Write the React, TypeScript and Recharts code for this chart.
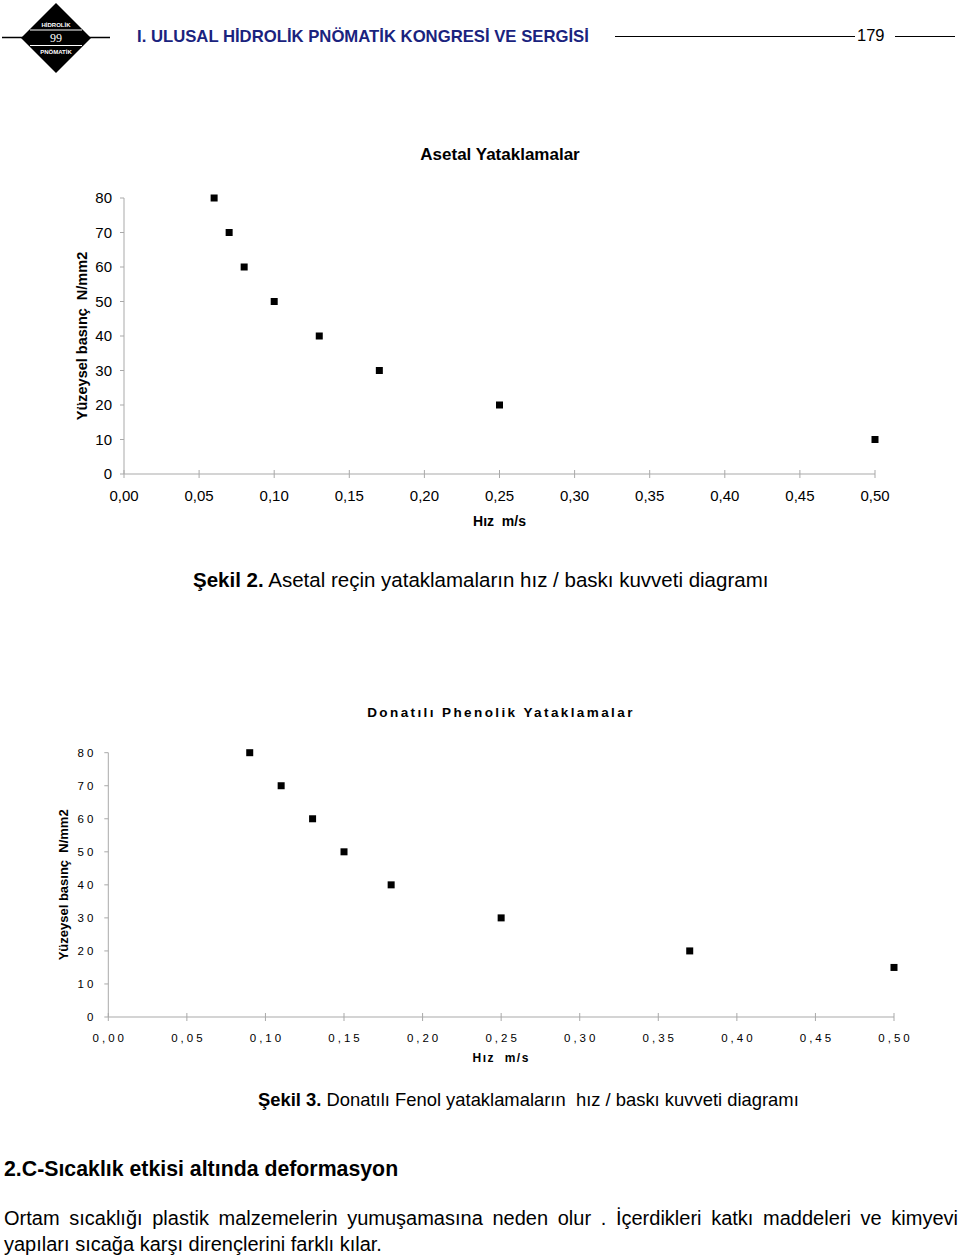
import React from 'react';
import { ScatterChart, Scatter, XAxis, YAxis, Label } from 'recharts';

// ---- data ----
const xTicks = [0, 0.05, 0.1, 0.15, 0.2, 0.25, 0.3, 0.35, 0.4, 0.45, 0.5];
const yTicks = [0, 10, 20, 30, 40, 50, 60, 70, 80];

const asetalHiz = [0.06, 0.07, 0.08, 0.1, 0.13, 0.17, 0.25, 0.5];
const asetalBasinc = [80, 70, 60, 50, 40, 30, 20, 10];

const fenolHiz = [0.09, 0.11, 0.13, 0.15, 0.18, 0.25, 0.37, 0.5];
const fenolBasinc = [80, 70, 60, 50, 40, 30, 20, 15];

const asetalData = asetalHiz.map((x, i) => ({ x, y: asetalBasinc[i] }));
const fenolData = fenolHiz.map((x, i) => ({ x, y: fenolBasinc[i] }));

// ---- styles ----
const FONT = '"Liberation Sans", Arial, Helvetica, sans-serif';
const AXIS = '#a9a9a9';

const fmtX = (v: number) => v.toFixed(2).replace('.', ',');

const Square = (props: any) => {
  const { cx, cy } = props;
  if (cx == null || cy == null) return null;
  return <rect x={cx - 3.5} y={cy - 3.5} width={7} height={7} fill="#000" />;
};

const makeXTick = (fs: number, ls: number, off: number) => (props: any) => {
  const { x, y, payload } = props;
  return (
    <g>
      <line x1={x} x2={x} y1={y - 4} y2={y + 4} stroke={AXIS} strokeWidth={1} />
      <text
        x={x + ls / 2}
        y={y + off}
        dy="0.355em"
        textAnchor="middle"
        fontSize={fs}
        letterSpacing={ls}
        fontFamily={FONT}
        fill="#000"
      >
        {fmtX(payload.value)}
      </text>
    </g>
  );
};

const makeYTick = (fs: number, ls: number) => (props: any) => {
  const { x, y, payload } = props;
  return (
    <text
      x={x + ls}
      y={y}
      dy="0.355em"
      textAnchor="end"
      fontSize={fs}
      letterSpacing={ls}
      fontFamily={FONT}
      fill="#000"
    >
      {payload.value}
    </text>
  );
};

const XTick1 = makeXTick(15, 0, 22);
const YTick1 = makeYTick(15, 0);
const XTick2 = makeXTick(11.5, 3, 20.7);
const YTick2 = makeYTick(11.5, 3);

type TxtProps = {
  left?: number;
  cx?: number;
  cy: number;
  fs: number;
  bold?: boolean;
  color?: string;
  ls?: number;
  width?: number;
  children: React.ReactNode;
};

const Txt = ({ left, cx, cy, fs, bold, color, ls, width, children }: TxtProps) => {
  const style: React.CSSProperties = {
    position: 'absolute',
    top: cy - 0.5 * fs,
    fontSize: fs,
    lineHeight: `${fs}px`,
    fontFamily: FONT,
    fontWeight: bold ? 'bold' : 'normal',
    color: color || '#000',
    whiteSpace: width ? 'normal' : 'pre',
    letterSpacing: ls ? ls : undefined,
  };
  if (width) {
    style.width = width;
    style.textAlign = 'justify';
    style.textAlignLast = 'justify';
  }
  if (cx != null) {
    style.left = cx;
    style.transform = 'translateX(-50%)';
  } else {
    style.left = left;
  }
  return <div style={style}>{children}</div>;
};

const Logo = () => (
  <svg width={140} height={80} style={{ position: 'absolute', left: 0, top: 0 }}>
    <line x1={2} x2={110} y1={37.5} y2={37.5} stroke="#000" strokeWidth={1.5} />
    <polygon points="56,3 91,38 56,73 21,38" fill="#000" />
    <line x1={30} x2={82} y1={30} y2={30} stroke="#fff" strokeWidth={1.2} />
    <line x1={30} x2={82} y1={45.5} y2={45.5} stroke="#fff" strokeWidth={1.2} />
    <text x={56} y={27} textAnchor="middle" fontSize={6} fontWeight="bold" fill="#fff" fontFamily={FONT}>
      HİDROLİK
    </text>
    <text x={56} y={42} textAnchor="middle" fontSize={12} fill="#fff" fontFamily='"Liberation Serif", serif'>
      99
    </text>
    <text x={56} y={54} textAnchor="middle" fontSize={6} fontWeight="bold" fill="#fff" fontFamily={FONT}>
      PNÖMATİK
    </text>
  </svg>
);

const Chart1 = () => (
  <div style={{ position: 'absolute', left: 0, top: 0 }}>
    <ScatterChart width={960} height={620} margin={{ top: 198, right: 85, bottom: 52, left: 40 }}>
      <XAxis
        type="number"
        dataKey="x"
        domain={[0, 0.5]}
        ticks={xTicks}
        interval={0}
        height={94}
        axisLine={{ stroke: AXIS }}
        tickLine={false}
        tickSize={0}
        tickMargin={0}
        tick={XTick1}
      >
        <Label
          value={'Hız\u00a0\u00a0m/s'}
          position="center"
          fontSize={14}
          fontWeight="bold"
          fill="#000"
          fontFamily={FONT}
        />
      </XAxis>
      <YAxis
        type="number"
        dataKey="y"
        domain={[0, 80]}
        ticks={yTicks}
        interval={0}
        width={84}
        axisLine={{ stroke: AXIS }}
        tickLine={{ stroke: AXIS }}
        tickSize={4}
        tickMargin={8}
        tick={YTick1}
      >
        <Label
          value={'Yüzeysel basınç\u00a0\u00a0N/mm2'}
          position="center"
          angle={-90}
          fontSize={14.5}
          fontWeight="bold"
          fill="#000"
          fontFamily={FONT}
        />
      </YAxis>
      <Scatter data={asetalData} shape={Square} isAnimationActive={false} />
    </ScatterChart>
  </div>
);

const Chart2 = () => (
  <div style={{ position: 'absolute', left: 0, top: 640 }}>
    <ScatterChart width={960} height={480} margin={{ top: 112.7, right: 66, bottom: 21, left: 18.3 }}>
      <XAxis
        type="number"
        dataKey="x"
        domain={[0, 0.5]}
        ticks={xTicks}
        interval={0}
        height={82}
        axisLine={{ stroke: AXIS }}
        tickLine={false}
        tickSize={0}
        tickMargin={0}
        tick={XTick2}
      >
        <Label
          value={'Hız\u00a0\u00a0m/s'}
          position="center"
          fontSize={12}
          fontWeight="bold"
          letterSpacing={1.5}
          fill="#000"
          fontFamily={FONT}
        />
      </XAxis>
      <YAxis
        type="number"
        dataKey="y"
        domain={[0, 80]}
        ticks={yTicks}
        interval={0}
        width={90}
        axisLine={{ stroke: AXIS }}
        tickLine={{ stroke: AXIS }}
        tickSize={4}
        tickMargin={11}
        tick={YTick2}
      >
        <Label
          value={'Yüzeysel basınç\u00a0\u00a0N/mm2'}
          position="center"
          angle={-90}
          fontSize={13}
          fontWeight="bold"
          fill="#000"
          fontFamily={FONT}
        />
      </YAxis>
      <Scatter data={fenolData} shape={Square} isAnimationActive={false} />
    </ScatterChart>
  </div>
);

export default function App() {
  return (
    <div
      style={{
        position: 'absolute',
        left: 0,
        top: 0,
        width: 960,
        height: 1257,
        background: '#fff',
        overflow: 'hidden',
        fontFamily: FONT,
      }}
    >
      <Logo />
      <Txt left={137} cy={37} fs={16.7} bold color="#1a237e">
        I. ULUSAL HİDROLİK PNÖMATİK KONGRESİ VE SERGİSİ
      </Txt>
      <div style={{ position: 'absolute', left: 615, top: 36, width: 240, height: 1.3, background: '#000' }} />
      <Txt left={857} cy={35} fs={16.5}>
        179
      </Txt>
      <div style={{ position: 'absolute', left: 895, top: 36, width: 60, height: 1.3, background: '#000' }} />

      <Chart1 />
      <Txt cx={500} cy={154} fs={17} bold>
        Asetal Yataklamalar
      </Txt>
      <Txt left={193} cy={580} fs={20.5}>
        <b>Şekil 2.</b> Asetal reçin yataklamaların hız / baskı kuvveti diagramı
      </Txt>

      <Chart2 />
      <Txt cx={501} cy={713} fs={13.5} bold ls={2.4}>
        Donatılı Phenolik Yataklamalar
      </Txt>
      <Txt left={258} cy={1100} fs={18.4}>
        <b>Şekil 3.</b> Donatılı Fenol yataklamaların  hız / baskı kuvveti diagramı
      </Txt>

      <Txt left={4} cy={1170} fs={21.3} bold>
        2.C-Sıcaklık etkisi altında deformasyon
      </Txt>
      <Txt left={4} cy={1218} fs={20} width={954}>
        Ortam sıcaklığı plastik malzemelerin yumuşamasına neden olur . İçerdikleri katkı maddeleri ve kimyevi
      </Txt>
      <Txt left={4} cy={1244} fs={20}>
        yapıları sıcağa karşı dirençlerini farklı kılar.
      </Txt>
    </div>
  );
}
